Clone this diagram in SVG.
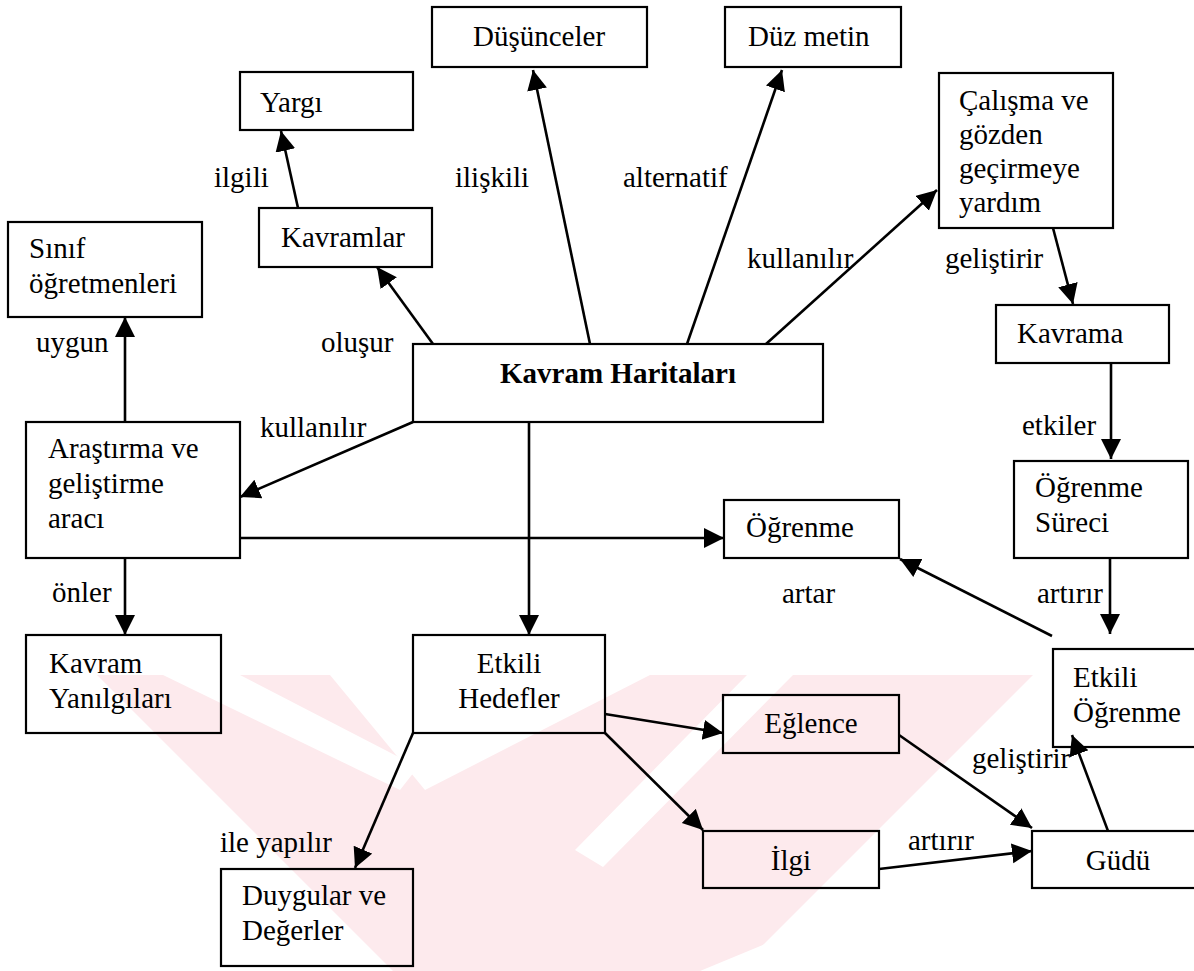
<svg xmlns="http://www.w3.org/2000/svg" width="1194" height="971" viewBox="0 0 1194 971">
<defs>
<style>
.box{fill:none;stroke:#000;stroke-width:2.2}
.t{font-family:"Liberation Serif","Times New Roman",serif;font-size:29px;fill:#000}
.b{font-weight:bold}
.c{text-anchor:middle}
.ln{fill:none;stroke:#000;stroke-width:2.6}
.wm{fill:#fdeaed;stroke:none}
.wh{fill:#fff;stroke:none}
</style>
<marker id="ah" markerUnits="userSpaceOnUse" markerWidth="22" markerHeight="22" refX="20" refY="10" orient="auto">
<path d="M0,0 L20,10 L0,20 z" fill="#000"/>
</marker>
</defs>
<rect width="1194" height="971" fill="#fff"/>
<g id="watermark">
<polygon class="wm" points="97,675 1033,675 737,971 393,971"/>
<polygon class="wh" points="163,675 240,675 418,767 400,790"/>
<polygon class="wh" points="330,675 650,675 425,790"/>
<polygon class="wh" points="747,675 793,675 603,867 575,850"/>
<polygon class="wh" points="700,971 775,940 850,971"/>
</g>
<g id="connectors">
<line class="ln" x1="433" y1="344" x2="377" y2="267" marker-end="url(#ah)"/>
<line class="ln" x1="298" y1="208" x2="281" y2="131" marker-end="url(#ah)"/>
<line class="ln" x1="590" y1="344" x2="533" y2="70" marker-end="url(#ah)"/>
<line class="ln" x1="687" y1="344" x2="782" y2="70" marker-end="url(#ah)"/>
<line class="ln" x1="766" y1="344" x2="937" y2="190" marker-end="url(#ah)"/>
<line class="ln" x1="1053" y1="228" x2="1073" y2="304" marker-end="url(#ah)"/>
<line class="ln" x1="1111" y1="363" x2="1111" y2="459" marker-end="url(#ah)"/>
<line class="ln" x1="1110" y1="558" x2="1110" y2="634" marker-end="url(#ah)"/>
<line class="ln" x1="1052" y1="636" x2="900" y2="559" marker-end="url(#ah)"/>
<line class="ln" x1="413" y1="422" x2="240" y2="497" marker-end="url(#ah)"/>
<line class="ln" x1="125" y1="422" x2="125" y2="317" marker-end="url(#ah)"/>
<line class="ln" x1="240" y1="538" x2="724" y2="538" marker-end="url(#ah)"/>
<line class="ln" x1="529" y1="422" x2="529" y2="635" marker-end="url(#ah)"/>
<line class="ln" x1="125" y1="558" x2="125" y2="635" marker-end="url(#ah)"/>
<line class="ln" x1="413" y1="733" x2="355" y2="868" marker-end="url(#ah)"/>
<line class="ln" x1="605" y1="714" x2="723" y2="733" marker-end="url(#ah)"/>
<line class="ln" x1="605" y1="733" x2="703" y2="830" marker-end="url(#ah)"/>
<line class="ln" x1="899" y1="735" x2="1032" y2="828" marker-end="url(#ah)"/>
<line class="ln" x1="879" y1="869" x2="1032" y2="851" marker-end="url(#ah)"/>
<line class="ln" x1="1108" y1="831" x2="1072" y2="735" marker-end="url(#ah)"/>
<text class="t" x="321" y="352">oluşur</text>
<text class="t" x="214" y="187">ilgili</text>
<text class="t" x="455" y="187">ilişkili</text>
<text class="t" x="623" y="187">alternatif</text>
<text class="t" x="747" y="268">kullanılır</text>
<text class="t" x="945" y="268">geliştirir</text>
<text class="t" x="1022" y="435">etkiler</text>
<text class="t" x="1037" y="603">artırır</text>
<text class="t" x="782" y="603">artar</text>
<text class="t" x="260" y="437">kullanılır</text>
<text class="t" x="36" y="352">uygun</text>
<text class="t" x="52" y="602">önler</text>
<text class="t" x="220" y="852">ile yapılır</text>
<text class="t" x="908" y="850">artırır</text>
<text class="t" x="972" y="768">geliştirir</text>
</g>
<g id="n-dusunceler"><rect class="box" x="432" y="7" width="215" height="60"/><text class="t" x="473" y="46">Düşünceler</text></g>
<g id="n-duzmetin"><rect class="box" x="725" y="7" width="176" height="60"/><text class="t" x="748" y="46">Düz metin</text></g>
<g id="n-yargi"><rect class="box" x="240" y="72" width="173" height="58"/><text class="t" x="260" y="112">Yargı</text></g>
<g id="n-calisma"><rect class="box" x="939" y="73" width="174" height="155"/><text class="t" x="959" y="110">Çalışma ve</text><text class="t" x="959" y="144">gözden</text><text class="t" x="959" y="178">geçirmeye</text><text class="t" x="959" y="212">yardım</text></g>
<g id="n-kavramlar"><rect class="box" x="259" y="208" width="173" height="59"/><text class="t" x="281" y="247">Kavramlar</text></g>
<g id="n-sinif"><rect class="box" x="8" y="222" width="194" height="95"/><text class="t" x="29" y="258">Sınıf</text><text class="t" x="29" y="293">öğretmenleri</text></g>
<g id="n-kavrama"><rect class="box" x="996" y="305" width="173" height="58"/><text class="t" x="1017" y="343">Kavrama</text></g>
<g id="n-kh"><rect class="box" x="413" y="344" width="410" height="78"/><text class="t b c" x="618" y="383">Kavram Haritaları</text></g>
<g id="n-arastirma"><rect class="box" x="26" y="422" width="214" height="136"/><text class="t" x="48" y="458">Araştırma ve</text><text class="t" x="48" y="493">geliştirme</text><text class="t" x="48" y="528">aracı</text></g>
<g id="n-ogrenme"><rect class="box" x="724" y="500" width="175" height="58"/><text class="t" x="746" y="537">Öğrenme</text></g>
<g id="n-ogrsureci"><rect class="box" x="1014" y="461" width="174" height="97"/><text class="t" x="1035" y="497">Öğrenme</text><text class="t" x="1035" y="532">Süreci</text></g>
<g id="n-yanilgi"><rect class="box" x="26" y="635" width="195" height="98"/><text class="t" x="49" y="673">Kavram</text><text class="t" x="49" y="708">Yanılgıları</text></g>
<g id="n-hedefler"><rect class="box" x="413" y="635" width="192" height="98"/><text class="t c" x="509" y="673">Etkili</text><text class="t c" x="509" y="708">Hedefler</text></g>
<g id="n-etkiliogr"><rect class="box" x="1053" y="649" width="150" height="98"/><text class="t" x="1073" y="687">Etkili</text><text class="t" x="1073" y="722">Öğrenme</text></g>
<g id="n-eglence"><rect class="box" x="723" y="695" width="176" height="58"/><text class="t c" x="811" y="733">Eğlence</text></g>
<g id="n-ilgi"><rect class="box" x="703" y="831" width="176" height="57"/><text class="t c" x="791" y="870">İlgi</text></g>
<g id="n-gudu"><rect class="box" x="1032" y="831" width="170" height="57"/><text class="t c" x="1118" y="870">Güdü</text></g>
<g id="n-duygular"><rect class="box" x="221" y="869" width="192" height="97"/><text class="t" x="242" y="905">Duygular ve</text><text class="t" x="242" y="940">Değerler</text></g>
</svg>
